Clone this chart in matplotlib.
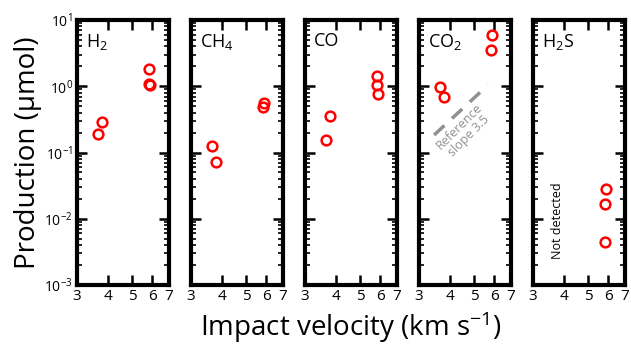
import numpy as np
import matplotlib
matplotlib.use("Agg")
import matplotlib.pyplot as plt
from matplotlib.ticker import FixedLocator, FixedFormatter, LogLocator, NullLocator, NullFormatter

plt.rcParams['font.family'] = ['Open Sans', 'DejaVu Sans']
plt.rcParams['mathtext.fontset'] = 'custom'
plt.rcParams['mathtext.rm'] = 'Open Sans'
plt.rcParams['mathtext.it'] = 'Open Sans'

gases = ["H$_2$", "CH$_4$", "CO", "CO$_2$", "H$_2$S"]

h2_v = [3.65, 3.78, 5.8, 5.8, 5.9]
h2_p = [0.19, 0.29, 1.85, 1.1, 1.03]
ch4_v = [3.65, 3.78, 5.8, 5.9]
ch4_p = [0.125, 0.072, 0.49, 0.56]
co_v = [3.63, 3.78, 5.8, 5.8, 5.9]
co_p = [0.155, 0.35, 1.45, 1.03, 0.77]
co2_v = [3.65, 3.78, 5.9, 5.8]
co2_p = [0.98, 0.68, 5.9, 3.5]
h2s_v = [5.9, 5.8, 5.8]
h2s_p = [0.028, 0.0165, 0.0044]

series = [(h2_v, h2_p), (ch4_v, ch4_p), (co_v, co_p), (co2_v, co2_p), (h2s_v, h2s_p)]

# reference slope line (CO2 panel)
ref_v = [3.45, 5.65]
ref_slope = 3.5
ref_p0 = 0.184

xticks = [3, 4, 5, 6, 7]
ylo, yhi = 1e-3, 1e1

fig = plt.figure(figsize=(6.31, 3.45), dpi=100)
W, H = 631, 345
lefts = [77, 191, 305, 419, 533]
pw = 92
top, bottom = 20, 285

axes = []
for i, left in enumerate(lefts):
    ax = fig.add_axes([left / W, 1 - bottom / H, pw / W, (bottom - top) / H])
    axes.append(ax)
    v, p = series[i]
    ax.plot(v, p, 'o', mfc='none', mec='#ff0000', mew=1.8, ms=7, ls='none')
    ax.set_xscale('log')
    ax.set_yscale('log')
    ax.set_xlim(3, 7)
    ax.set_ylim(ylo, yhi)
    ax.xaxis.set_major_locator(FixedLocator(xticks))
    ax.xaxis.set_major_formatter(FixedFormatter([str(t) for t in xticks]))
    ax.xaxis.set_minor_locator(NullLocator())
    ax.xaxis.set_minor_formatter(NullFormatter())
    ax.yaxis.set_major_locator(LogLocator(base=10, numticks=10))
    ax.yaxis.set_minor_locator(LogLocator(base=10, subs=np.arange(2, 10), numticks=10))
    ax.tick_params(which='major', direction='in', length=7, width=1.8,
                   top=True, right=True, labelsize=11, pad=3)
    ax.tick_params(which='minor', direction='in', length=3.5, width=1.2,
                   top=True, right=True)
    for s in ax.spines.values():
        s.set_linewidth(3)
    if i > 0:
        ax.set_yticklabels([])
        ax.yaxis.set_minor_formatter(NullFormatter())
    else:
        ax.tick_params(axis='y', labelsize=10)
    ax.text(0.1, 0.955, gases[i], transform=ax.transAxes, fontsize=13,
            ha='left', va='top')

# reference line
rv = np.array(ref_v)
rp = ref_p0 * (rv / ref_v[0]) ** ref_slope
axes[3].plot(rv, rp, color='#909090', lw=2.5, dashes=(4, 3))
axes[3].text(4.55, 0.21, "Reference\nslope 3.5", color='#909090', fontsize=9,
             rotation=45, ha='center', va='center', linespacing=1.0)

axes[4].text(3.75, 0.0025, "Not detected", fontsize=9, rotation=90,
             ha='center', va='bottom')

fig.text(0.045, (1 - (bottom + top) / 2 / H), "Production (μmol)", fontsize=20,
         rotation=90, ha='center', va='center')
fig.text((lefts[0] + lefts[-1] + pw) / 2 / W, 1 - 336 / H, "Impact velocity (km s$^{-1}$)",
         fontsize=20, ha='center', va='baseline')

fig.savefig("out.png", dpi=100)
